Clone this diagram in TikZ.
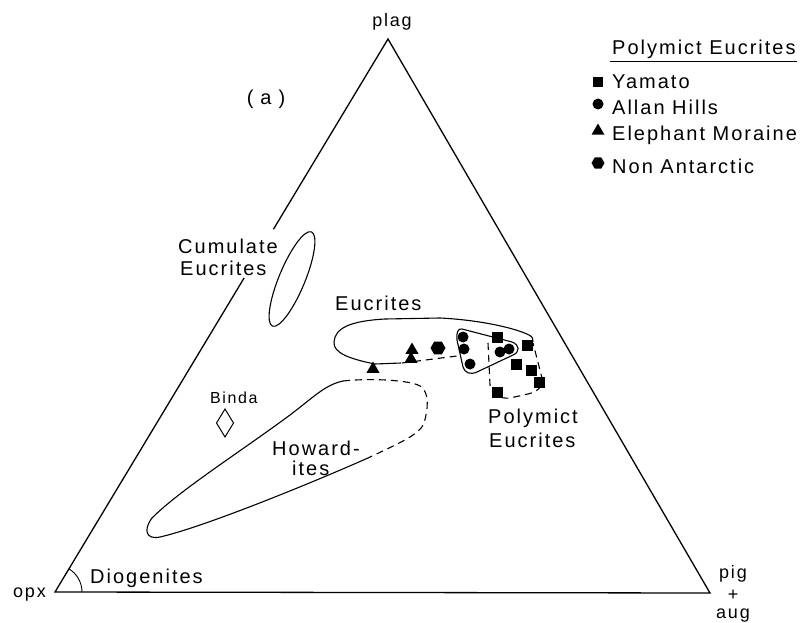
\documentclass[tikz,border=0pt]{standalone}
\usepackage{fontspec}
\setmainfont{Liberation Sans}[LetterSpace=10]
\usetikzlibrary{shapes.geometric,calc}
\begin{document}
\begin{tikzpicture}[x=1pt,y=-1pt,
  lbl/.style={inner sep=0pt, font=\fontsize{20}{22}\selectfont},
  small/.style={inner sep=0pt, font=\fontsize{16}{18}\selectfont},
  vtx/.style={inner sep=0pt, font=\fontsize{18}{20}\selectfont},
  edge/.style={line width=1.3pt},
  field/.style={line width=1.1pt},
  dfield/.style={line width=1.1pt, dash pattern=on 7pt off 5pt},
  sq/.style={fill=black, minimum size=11pt, inner sep=0pt},
  ci/.style={circle, fill=black, minimum size=11pt, inner sep=0pt},
  tri/.style={regular polygon, regular polygon sides=3, fill=black, minimum size=15pt, inner sep=0pt},
  hexa/.style={regular polygon, regular polygon sides=6, fill=black, minimum size=15pt, inner sep=0pt}
]
\useasboundingbox (0,0) rectangle (803,623);

% triangle
\coordinate (A) at (55,592);
\coordinate (B) at (710,593);
\coordinate (C) at (388,39);
\draw[edge, line join=miter] ($(A)!0.656!(C)$) -- (C) -- (B) -- (A) -- ($(A)!0.568!(C)$);
\draw[line width=0.9pt] ($(A)+(27pt,0)$) arc[start angle=0, end angle=59, radius=27pt];

% vertex labels
\node[vtx, anchor=base] (plag) at (392,27) {plag};
\node[vtx, anchor=base west] (opx) at (13,597) {opx};
\node[vtx, anchor=base] (pig) at (733,578) {pig};
\node[vtx, anchor=center] (plus) at (733,595) {+};
\node[vtx, anchor=base] (aug) at (733,618) {aug};
\node[lbl, anchor=base] (a) at (266,105) {\addfontfeature{LetterSpace=35}(a)};

% legend
\node[lbl, anchor=base west] (legt) at (612,55) {Polymict Eucrites};
\draw[line width=0.8pt] (610,61) -- (797,61);
\node[sq, minimum size=10pt] (ls) at (598,82) {};
\node[ci] (lc) at (598,104) {};
\node[tri] (lt) at (598,131) {};
\node[hexa, minimum size=13pt] (lh) at (598,163) {};
\node[lbl, anchor=base west] (l1) at (612,89) {Yamato};
\node[lbl, anchor=base west] (l2) at (612,115) {Allan Hills};
\node[lbl, anchor=base west] (l3) at (612,140) {Elephant Moraine};
\node[lbl, anchor=base west] (l4) at (612,173) {Non Antarctic};

% cumulate eucrites
\draw[field, rotate around={67.5:(292,279)}] (292,279) ellipse [x radius=51pt, y radius=13pt];
\node[lbl, anchor=base west] (cum1) at (178,253) {Cumulate};
\node[lbl, anchor=base west] (cum2) at (180,275) {Eucrites};

% eucrites field
\draw[field] (401,363) -- (375,364) .. controls (350,359) and (333,353) .. (334,342)
  .. controls (335,328) and (350,321) .. (385,319) -- (440,318)
  .. controls (480,320) and (515,328) .. (529,335) .. controls (533,337) and (533,339) .. (533,342);
\draw[dfield] (402,363) -- (457,356);
\node[lbl, anchor=base west] (euc) at (335,310) {Eucrites};

% polymict fields
\draw[field] (462,329) -- (512,342) .. controls (520,345) and (520,352) .. (513,355)
  -- (477,372) .. controls (470,375) and (465,373) .. (463,367) -- (457,340)
  .. controls (456,333) and (458,328) .. (462,329);
\draw[dfield] (488,343) -- (490,385) .. controls (492,395) and (500,399) .. (510,398)
  -- (528,394) .. controls (540,391) and (543,385) .. (542,378) -- (533,343);
\node[lbl, anchor=base west] (pe1) at (488,423) {Polymict};
\node[lbl, anchor=base west] (pe2) at (489,447) {Eucrites};

% howardites
\draw[field] (368,458) .. controls (300,488) and (200,528) .. (160,537)
  .. controls (146,540) and (143,530) .. (152,518)
  .. controls (180,490) and (240,452) .. (290,415)
  .. controls (315,396) and (325,385) .. (343,381);
\draw[dfield] (343,381) .. controls (370,378) and (410,380) .. (420,386)
  .. controls (430,392) and (428,410) .. (424,423)
  .. controls (420,435) and (395,445) .. (368,458);
\node[lbl, anchor=base west] (how1) at (272,455) {Howard-};
\node[lbl, anchor=base west] (how2) at (292,475) {ites};

% binda
\draw[line width=1pt] (225,409) -- (233.5,423) -- (225,437) -- (216.5,423) -- cycle;
\node[small, anchor=base west] (binda) at (210,403) {Binda};

% diogenites
\node[lbl, anchor=base west] (dio) at (90,583) {Diogenites};

% data points
\node[tri] (t1) at (373,369) {};
\node[tri] (t2) at (412,350) {};
\node[tri] (t3) at (411,359) {};
\node[hexa] (h1) at (438,348) {};
\node[ci] (c1) at (463,337) {};
\node[ci] (c2) at (464,349) {};
\node[ci] (c3) at (470,364) {};
\node[ci] (c4) at (500,352) {};
\node[ci] (c5) at (509,349) {};
\node[sq] (s1) at (497,337) {};
\node[sq] (s2) at (527,345) {};
\node[sq] (s3) at (516,364) {};
\node[sq] (s4) at (531,370) {};
\node[sq] (s5) at (539,382) {};
\node[sq] (s6) at (497,392) {};
\end{tikzpicture}
\end{document}
